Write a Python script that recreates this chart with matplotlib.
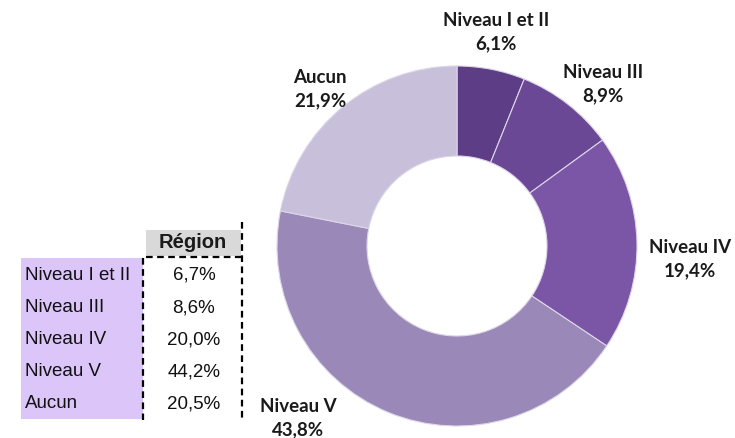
import matplotlib
matplotlib.use("Agg")
import matplotlib.pyplot as plt
from matplotlib.patches import Rectangle
from matplotlib.lines import Line2D

categories = ["Niveau I et II", "Niveau III", "Niveau IV", "Niveau V", "Aucun"]
national = [6.1, 8.9, 19.4, 43.8, 21.9]
region = [6.7, 8.6, 20.0, 44.2, 20.5]
table_header = "Région"

colors = ["#5d3e86", "#6a4895", "#7b56a6", "#9a88b8", "#c8bfda"]

W, H = 735, 438
fig = plt.figure(figsize=(W / 100, H / 100), dpi=100)
fig.patch.set_facecolor("white")

def fmt(v):
    return f"{v:.1f}".replace(".", ",") + "%"

# Donut
cx, cy, R = 457, 246, 180
ax = fig.add_axes([(cx - R) / W, (H - cy - R) / H, 2 * R / W, 2 * R / H])
ax.pie(national, colors=colors, startangle=90, counterclock=False, radius=1.0,
       wedgeprops=dict(width=0.5, edgecolor="#ddd5e8", linewidth=0.8))
ax.set_xlim(-1, 1)
ax.set_ylim(-1, 1)
ax.set_aspect("equal")
ax.axis("off")

# Overlay axes in pixel coordinates
ov = fig.add_axes([0, 0, 1, 1], facecolor="none")
ov.set_xlim(0, W)
ov.set_ylim(H, 0)
ov.axis("off")

label_pos = [(496, 32), (603, 84), (690, 259), (298, 418), (320, 89)]
for cat, val, (x, y) in zip(categories, national, label_pos):
    ov.text(x, y, f"{cat}\n{fmt(val)}", ha="center", va="center",
            fontsize=13.5, fontweight="bold", family="Lato", color="#1a1a1a",
            linespacing=1.45)

# Table
ov.add_patch(Rectangle((21, 258), 122, 161, facecolor="#dcc5f8", edgecolor="none"))
ov.add_patch(Rectangle((146, 230), 95, 26, facecolor="#d9d9d9", edgecolor="none"))
ov.text(193, 243, table_header, ha="center", va="center", fontsize=14.5,
        fontweight="bold", family="Liberation Sans", color="#1a1a1a")
row_y = [275, 308, 340, 372, 404]
for cat, val, y in zip(categories, region, row_y):
    ov.text(25, y, cat, ha="left", va="center", fontsize=13.5,
            family="Liberation Sans", color="#111111")
    ov.text(194, y, fmt(val), ha="center", va="center", fontsize=13.5,
            family="Liberation Sans", color="#111111")

dash = dict(color="black", linewidth=1.6, linestyle=(0, (3, 2)))
ov.add_line(Line2D([143.5, 143.5], [258, 420], **dash))
ov.add_line(Line2D([242, 242], [222, 420], **dash))
ov.add_line(Line2D([146, 242], [256.5, 256.5], **dash))

fig.savefig("out.png", dpi=100)
